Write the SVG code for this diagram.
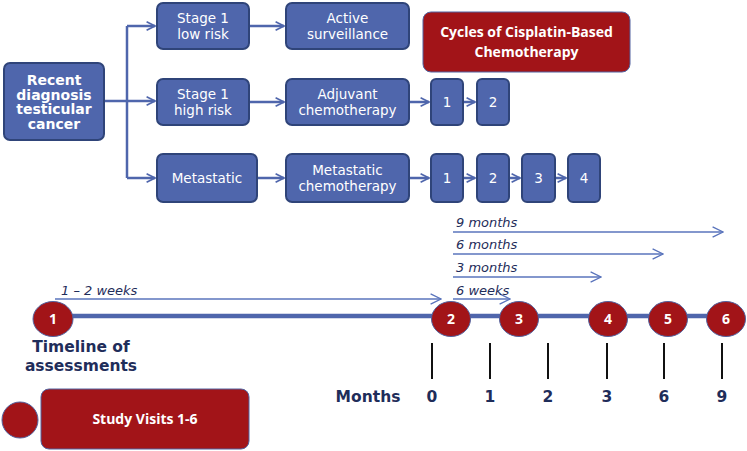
<svg xmlns="http://www.w3.org/2000/svg" width="747" height="451" viewBox="0 0 747 451">
<style>
.bx{fill:#4f66ac;stroke:#2f4479;stroke-width:2}
.rb{fill:#a21418;stroke:#5263a0;stroke-width:1}
.bt{font-family:"DejaVu Sans",Verdana,sans-serif;font-size:13.5px;fill:#fff;text-anchor:middle}
.bb{font-family:"DejaVu Sans",Verdana,sans-serif;font-size:14px;font-weight:bold;fill:#fff;text-anchor:middle}
.rt{font-family:"Open Sans","Liberation Sans",sans-serif;font-size:14px;font-weight:bold;fill:#fff;text-anchor:middle}
.ct{font-family:"Open Sans","Liberation Sans",sans-serif;font-size:14px;font-weight:bold;fill:#fff;text-anchor:middle}
.it{font-family:"DejaVu Sans",Verdana,sans-serif;font-size:13px;font-style:italic;fill:#1f2d5a}
.nv{font-family:"DejaVu Sans",Verdana,sans-serif;font-size:15.5px;font-weight:bold;fill:#1f2d5a;text-anchor:middle}
.cn{fill:none;stroke:#4f66ac;stroke-width:2.5}
.tl{fill:none;stroke:#5a74bc;stroke-width:1.3}
.tk{stroke:#111;stroke-width:2}
</style>
<defs>
<marker id="ah" viewBox="0 0 10 10" refX="9" refY="5" markerWidth="4.2" markerHeight="4.2" orient="auto" markerUnits="strokeWidth">
<path d="M1,1 L9,5 L1,9" fill="none" stroke="#4f66ac" stroke-width="1.6"/>
</marker>
<marker id="at" viewBox="0 0 10 10" refX="9" refY="5" markerWidth="10" markerHeight="10" orient="auto" markerUnits="strokeWidth">
<path d="M1,1 L9,5 L1,9" fill="none" stroke="#5a74bc" stroke-width="1"/>
</marker>
</defs>
<g id="connectors">
<path class="cn" d="M104,101 H155" marker-end="url(#ah)"/>
<path class="cn" d="M127,101 V178"/>
<path class="cn" d="M127,101 V26"/>
<path class="cn" d="M127,26 H155" marker-end="url(#ah)"/>
<path class="cn" d="M127,178 H155" marker-end="url(#ah)"/>
<path class="cn" d="M249,26 H284" marker-end="url(#ah)"/>
<path class="cn" d="M249,102 H284" marker-end="url(#ah)"/>
<path class="cn" d="M257,178 H284" marker-end="url(#ah)"/>
<path class="cn" d="M409,102 H429" marker-end="url(#ah)"/>
<path class="cn" d="M463,102 H475" marker-end="url(#ah)"/>
<path class="cn" d="M409,178 H429" marker-end="url(#ah)"/>
<path class="cn" d="M463,178 H475" marker-end="url(#ah)"/>
<path class="cn" d="M509,178 H520" marker-end="url(#ah)"/>
<path class="cn" d="M555,178 H566" marker-end="url(#ah)"/>
<path class="tl" d="M55,299 H441" marker-end="url(#at)"/>
<path class="tl" d="M453,299 H510" marker-end="url(#at)"/>
<path class="tl" d="M453,277 H601" marker-end="url(#at)"/>
<path class="tl" d="M453,254 H663" marker-end="url(#at)"/>
<path class="tl" d="M453,232 H723" marker-end="url(#at)"/>
</g>
<g id="recent"><rect class="bx" x="4" y="63" width="100" height="77" rx="6"/>
<text class="bb" x="54" y="85">Recent</text><text class="bb" x="54" y="99.5">diagnosis</text><text class="bb" x="54" y="114">testicular</text><text class="bb" x="54" y="128.5">cancer</text></g>
<g id="low"><rect class="bx" x="157" y="3" width="92" height="46" rx="6"/>
<text class="bt" x="203" y="23">Stage 1</text><text class="bt" x="203" y="39">low risk</text></g>
<g id="active"><rect class="bx" x="286" y="3" width="123" height="46" rx="6"/>
<text class="bt" x="347.5" y="23">Active</text><text class="bt" x="347.5" y="39">surveillance</text></g>
<g id="high"><rect class="bx" x="157" y="79" width="92" height="46" rx="6"/>
<text class="bt" x="203" y="99">Stage 1</text><text class="bt" x="203" y="115">high risk</text></g>
<g id="adjuvant"><rect class="bx" x="286" y="79" width="123" height="46" rx="6"/>
<text class="bt" x="347.5" y="99">Adjuvant</text><text class="bt" x="347.5" y="115">chemotherapy</text></g>
<g id="metastatic"><rect class="bx" x="157" y="154" width="100" height="48" rx="6"/>
<text class="bt" x="207" y="183">Metastatic</text></g>
<g id="metchemo"><rect class="bx" x="286" y="154" width="123" height="48" rx="6"/>
<text class="bt" x="347.5" y="175">Metastatic</text><text class="bt" x="347.5" y="191">chemotherapy</text></g>
<g id="cycles"><rect class="rb" x="423" y="12" width="207" height="60" rx="8"/>
<text class="rt" x="526.5" y="37">Cycles of Cisplatin-Based</text><text class="rt" x="526.5" y="57">Chemotherapy</text></g>
<g id="a1"><rect class="bx" x="431" y="79" width="32" height="46" rx="5"/><text class="bt" x="447" y="107">1</text></g>
<g id="a2"><rect class="bx" x="477" y="79" width="32" height="46" rx="5"/><text class="bt" x="493" y="107">2</text></g>
<g id="m1"><rect class="bx" x="431" y="154" width="32" height="48" rx="5"/><text class="bt" x="447" y="183">1</text></g>
<g id="m2"><rect class="bx" x="477" y="154" width="32" height="48" rx="5"/><text class="bt" x="493" y="183">2</text></g>
<g id="m3"><rect class="bx" x="522" y="154" width="33" height="48" rx="5"/><text class="bt" x="538.5" y="183">3</text></g>
<g id="m4"><rect class="bx" x="568" y="154" width="32" height="48" rx="5"/><text class="bt" x="584" y="183">4</text></g>
<g id="timeline">
<line x1="55" y1="316" x2="726" y2="316" stroke="#4f66ac" stroke-width="4.5"/>
<text class="it" x="61" y="295">1 – 2 weeks</text>
<text class="it" x="456" y="295">6 weeks</text>
<text class="it" x="456" y="272">3 months</text>
<text class="it" x="456" y="249">6 months</text>
<text class="it" x="456" y="227">9 months</text>
<line class="tk" x1="432" y1="343" x2="432" y2="379"/>
<line class="tk" x1="490" y1="343" x2="490" y2="379"/>
<line class="tk" x1="548" y1="343" x2="548" y2="379"/>
<line class="tk" x1="607" y1="343" x2="607" y2="379"/>
<line class="tk" x1="664" y1="343" x2="664" y2="379"/>
<line class="tk" x1="722" y1="343" x2="722" y2="379"/>
<text class="nv" x="368" y="402">Months</text>
<text class="nv" x="432" y="402">0</text>
<text class="nv" x="490" y="402">1</text>
<text class="nv" x="548" y="402">2</text>
<text class="nv" x="607" y="402">3</text>
<text class="nv" x="664" y="402">6</text>
<text class="nv" x="722" y="402">9</text>
<text class="nv" x="81" y="352">Timeline of</text>
<text class="nv" x="81" y="371">assessments</text>
</g>
<g id="v1"><ellipse class="rb" cx="53" cy="319" rx="20" ry="17.5"/><text class="ct" x="53" y="324">1</text></g>
<g id="v2"><ellipse class="rb" cx="451" cy="319" rx="19.5" ry="17.5"/><text class="ct" x="451" y="324">2</text></g>
<g id="v3"><ellipse class="rb" cx="519" cy="319" rx="19.5" ry="17.5"/><text class="ct" x="519" y="324">3</text></g>
<g id="v4"><ellipse class="rb" cx="608" cy="319" rx="19.5" ry="17.5"/><text class="ct" x="608" y="324">4</text></g>
<g id="v5"><ellipse class="rb" cx="668" cy="319" rx="19.5" ry="17.5"/><text class="ct" x="668" y="324">5</text></g>
<g id="v6"><ellipse class="rb" cx="726" cy="319" rx="19.5" ry="17.5"/><text class="ct" x="726" y="324">6</text></g>
<g id="legend">
<circle class="rb" cx="20" cy="420" r="18"/>
<rect class="rb" x="41" y="389" width="208" height="60" rx="8"/>
<text class="ct" x="145" y="424">Study Visits 1-6</text>
</g>
</svg>
